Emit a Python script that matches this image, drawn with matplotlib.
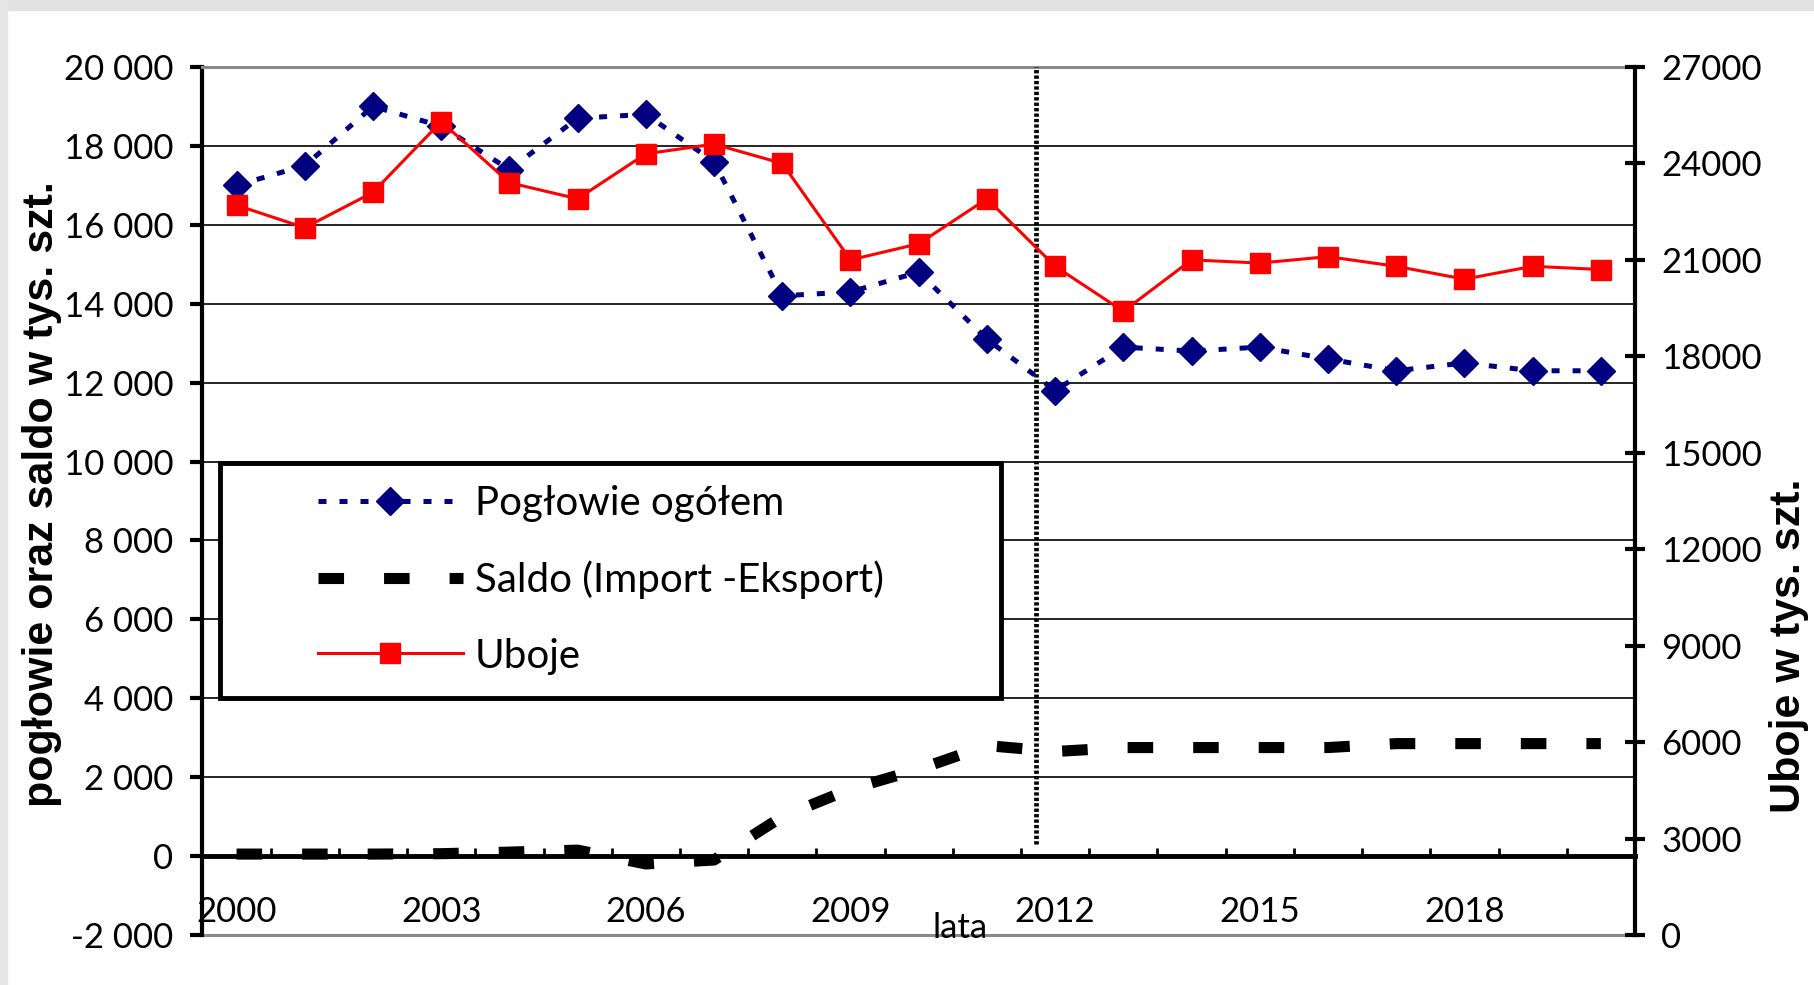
import matplotlib
matplotlib.use("Agg")
import matplotlib.pyplot as plt
import numpy as np
from matplotlib.patches import Rectangle
from matplotlib.ticker import FuncFormatter, MultipleLocator, FixedLocator

# data
years = list(range(2000, 2021))
poglowie = [17000, 17500, 19000, 18500, 17400, 18700, 18800, 17600, 14200, 14300,
            14800, 13100, 11800, 12900, 12800, 12900, 12600, 12300, 12500, 12300, 12300]
saldo = [50, 50, 50, 60, 100, 150, -200, -100, 1000, 1700,
         2200, 2800, 2650, 2750, 2750, 2750, 2750, 2850, 2850, 2850, 2850]
uboje = [22700, 22000, 23100, 25300, 23400, 22900, 24300, 24600, 24000, 21000,
         21500, 22900, 20800, 19400, 21000, 20900, 21100, 20800, 20400, 20800, 20700]
year_labels = [2000, 2003, 2006, 2009, 2012, 2015, 2018]
marker_year = 2011.72

tick_font = "Lato"
x = np.arange(len(years))

fig = plt.figure(figsize=(18.14, 9.85), dpi=100)
fig.patches.append(Rectangle((0, 0.99), 1, 0.01, transform=fig.transFigure,
                             color="#e2e2e2", zorder=0))
fig.patches.append(Rectangle((0, 0), 0.004, 1, transform=fig.transFigure,
                             color="#e6e6e6", zorder=0))

ax = fig.add_axes([0.1116, 0.0508, 0.7897, 0.8812])
ax.set_xlim(-0.5, len(years) - 0.5)
ax.set_ylim(-2000, 20000)

# grid
for v in range(-2000, 20001, 2000):
    if v in (-2000, 0, 20000):
        continue
    ax.axhline(v, color="black", lw=1.2, zorder=1)
ax.axhline(-2000, color="#8a8a8a", lw=2.2, zorder=2, clip_on=False)

# vertical marker line
ax.plot([marker_year - 2000] * 2, [300, 20000], color="black", lw=3.4,
        linestyle=(0, (0.7, 0.45)), zorder=3)

l1, = ax.plot(x, poglowie, color="#000080", lw=3.6, linestyle=(0, (1.6, 2.6)),
              marker="D", markersize=14, zorder=5, label="Pogłowie ogółem")
l2, = ax.plot(x, saldo, color="black", lw=8, linestyle=(0, (2.3, 3.6)),
              zorder=5, label="Saldo (Import -Eksport)")

# spines / axes
ax.spines["bottom"].set_position(("data", 0))
ax.spines["bottom"].set_linewidth(3.5)
ax.spines["top"].set_color("#8a8a8a")
ax.spines["top"].set_linewidth(2.2)
ax.spines["left"].set_linewidth(3)
ax.spines["right"].set_visible(False)

ax.yaxis.set_major_locator(MultipleLocator(2000))
ax.yaxis.set_major_formatter(FuncFormatter(lambda v, p: f"{int(v):,}".replace(",", " ")))
ax.tick_params(axis="y", direction="out", length=9, width=3, pad=12,
               labelsize=25, colors="black")

ax.xaxis.set_major_locator(FixedLocator([y - 2000 for y in year_labels]))
ax.set_xticklabels([str(y) for y in year_labels])
ax.xaxis.set_minor_locator(FixedLocator(np.arange(0.5, len(years) - 0.5, 1)))
ax.tick_params(axis="x", which="major", length=0, pad=29, labelsize=25)
ax.tick_params(axis="x", which="minor", direction="in", length=6, width=2)
for lab in ax.get_xticklabels() + ax.get_yticklabels():
    lab.set_fontfamily(tick_font)

# right axis
ax2 = ax.twinx()
ax2.set_ylim(0, 27000)
l3, = ax2.plot(x, uboje, color="red", lw=2.2, marker="s", markersize=15,
               zorder=5, label="Uboje")
ax2.yaxis.set_major_locator(MultipleLocator(3000))
ax2.tick_params(axis="y", direction="inout", length=14, width=3, pad=12,
                labelsize=25)
for lab in ax2.get_yticklabels():
    lab.set_fontfamily(tick_font)
ax2.spines["right"].set_linewidth(3)
for s in ("top", "bottom", "left"):
    ax2.spines[s].set_visible(False)

# legend box
ax2.add_patch(Rectangle((0.0122, 0.273), 0.545, 0.271, transform=ax2.transAxes,
                        facecolor="white", edgecolor="black", lw=3.5, zorder=6))
leg = ax2.legend(handles=[l1, l2, l3], loc="upper left",
                 bbox_to_anchor=(0.0806, 0.518), frameon=False, borderpad=0,
                 borderaxespad=0, handlelength=3.6, handletextpad=0.3,
                 labelspacing=0.95, numpoints=1, prop={"family": tick_font, "size": 29})
leg.set_zorder(7)

fig.text(0.023, 0.498, "pogłowie oraz saldo w tys. szt.", rotation=90,
         ha="center", va="center", fontsize=31, fontweight="bold",
         family="Liberation Sans")
fig.text(0.986, 0.344, "Uboje w tys. szt.", rotation=90, ha="center",
         va="center", fontsize=31, fontweight="bold", family="Liberation Sans")
fig.text(0.529, 0.058, "lata", ha="center", va="center", fontsize=25,
         family=tick_font)

fig.savefig("out.png", dpi=100)
